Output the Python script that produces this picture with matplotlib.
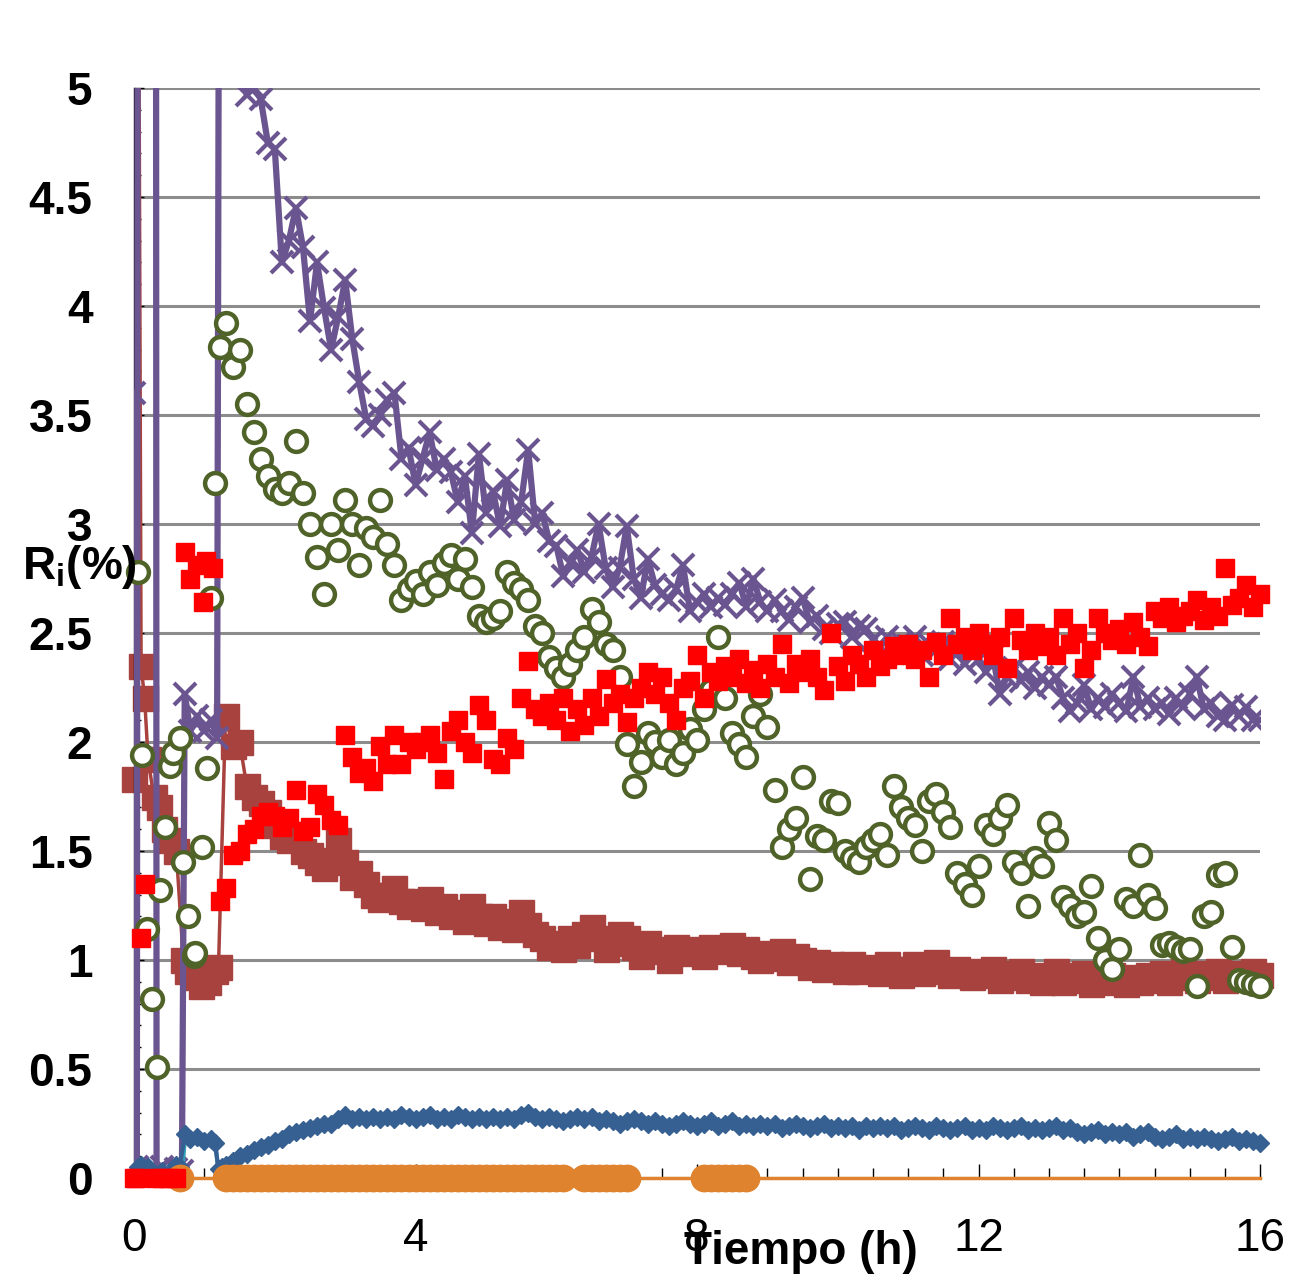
import numpy as np
import matplotlib
matplotlib.use("Agg")
import matplotlib.pyplot as plt
from matplotlib.ticker import MultipleLocator

plt.rcParams['font.family'] = ['Liberation Sans', 'DejaVu Sans']
plt.rcParams['mathtext.fontset'] = 'custom'
plt.rcParams['mathtext.rm'] = 'Liberation Sans'
plt.rcParams['mathtext.bf'] = 'Liberation Sans:bold'

# --- données : début de l'essai (t < 1.3 h), pas irrégulier ---
t_purple0 = [0.0, 0.04, 0.1, 0.28, 0.32, 0.4, 0.5, 0.6, 0.68, 0.72, 0.8, 0.9, 1.0, 1.1, 1.18, 1.25]
purple0 = [3.6, 0.05, 30.0, 30.0, 0.03, 0.05, 0.02, 0.04, 0.03, 2.22, 2.05, 2.12, 2.05, 2.1, 2.02, 12.0]

t_brown0 = [0.0, 0.03, 0.1, 0.15, 0.2, 0.28, 0.35, 0.42, 0.5, 0.6, 0.7, 0.75, 0.85, 0.95, 1.05, 1.15, 1.2]
brown0 = [1.83, 9.0, 2.35, 2.2, 1.92, 1.75, 1.7, 1.6, 1.55, 1.5, 1.0, 0.95, 0.92, 0.88, 0.9, 0.95, 0.97]

t_red0 = [0.0, 0.03, 0.1, 0.15, 0.3, 0.4, 0.5, 0.6, 0.72, 0.8, 0.9, 0.98, 1.02, 1.12, 1.22]
red0 = [0.0, 0.0, 1.1, 1.35, 0.0, 0.0, 0.0, 0.0, 2.87, 2.75, 2.81, 2.64, 2.83, 2.8, 1.27]

t_green0 = [0.06, 0.11, 0.18, 0.26, 0.33, 0.37, 0.44, 0.51, 0.56, 0.65, 0.7, 0.77, 0.85, 0.87,
            0.96, 1.03, 1.1, 1.15, 1.22]
green0 = [2.78, 1.94, 1.14, 0.82, 0.51, 1.32, 1.61, 1.89, 1.95, 2.02, 1.45, 1.2, 1.02, 1.03,
          1.52, 1.88, 2.66, 3.19, 3.81]

t_blue0 = [0.0, 0.05, 0.1, 0.15, 0.2, 0.3, 0.4, 0.5, 0.6, 0.65, 0.72, 0.8, 0.9, 1.0, 1.1, 1.15, 1.2, 1.25]
blue0 = [0.02, 0.05, 0.06, 0.04, 0.05, 0.02, 0.03, 0.02, 0.06, 0.05, 0.2, 0.18, 0.19, 0.17, 0.18, 0.16, 0.04, 0.05]

t_teal = [0.6, 0.68, 0.72, 0.9, 1.15, 1.2, 1.28]
teal = [0.0, 0.02, 0.17, 0.16, 0.17, 0.03, 0.05]

# --- données : t = 1.3 ... 16.0 h, pas de 0.1 h ---
t_main = np.arange(13, 161) / 10

purple = [10.0, 8.0, 5.3, 4.97, 5.0, 4.95, 4.75,
          4.72, 4.2, 4.3, 4.45, 4.27, 3.93, 4.2, 3.99, 3.8, 3.95,
          4.12, 3.85, 3.65, 3.48, 3.45, 3.5, 3.57, 3.6, 3.3, 3.35,
          3.18, 3.3, 3.42, 3.25, 3.3, 3.24, 3.1, 3.22, 2.96, 3.32,
          3.05, 3.15, 2.99, 3.2, 3.02, 3.1, 3.34, 3.0, 3.05, 2.92,
          2.9, 2.76, 2.82, 2.88, 2.78, 2.85, 3.0, 2.8, 2.71, 2.8,
          2.99, 2.75, 2.66, 2.84, 2.72, 2.68, 2.65, 2.7, 2.81, 2.6,
          2.64, 2.68, 2.62, 2.66, 2.63, 2.68, 2.73, 2.62, 2.75, 2.64,
          2.6, 2.65, 2.6, 2.56, 2.62, 2.66, 2.55, 2.58, 2.52, 2.5,
          2.54, 2.55, 2.48, 2.53, 2.52, 2.47, 2.44, 2.48, 2.41, 2.46,
          2.44, 2.48, 2.4, 2.45, 2.42, 2.46, 2.38, 2.42, 2.36, 2.4,
          2.38, 2.32, 2.4, 2.22, 2.3, 2.34, 2.28, 2.32, 2.25, 2.3,
          2.26, 2.3, 2.2, 2.14, 2.18, 2.26, 2.15, 2.2, 2.16, 2.22,
          2.18, 2.14, 2.3, 2.16, 2.2, 2.15, 2.18, 2.13, 2.2, 2.16,
          2.22, 2.3, 2.15, 2.18, 2.12, 2.1, 2.17, 2.12, 2.16, 2.1,
          2.1]

brown = [2.12, 1.98, 2.0, 1.8, 1.75, 1.72, 1.68,
         1.62, 1.57, 1.55, 1.58, 1.5, 1.48, 1.45, 1.42, 1.46, 1.55,
         1.45, 1.38, 1.4, 1.35, 1.3, 1.28, 1.3, 1.33, 1.27, 1.25,
         1.27, 1.24, 1.28, 1.22, 1.25, 1.2, 1.22, 1.18, 1.25, 1.2,
         1.17, 1.2, 1.15, 1.18, 1.14, 1.22, 1.16, 1.12, 1.1, 1.06,
         1.08, 1.05, 1.1, 1.07, 1.12, 1.15, 1.1, 1.05, 1.08, 1.12,
         1.1, 1.06, 1.02, 1.08, 1.04, 1.05, 1.0, 1.06, 1.04, 1.03,
         1.05, 1.02, 1.06, 1.04, 1.05, 1.07, 1.03, 1.05, 1.02, 1.0,
         1.03, 1.01, 1.04, 0.99, 1.02, 1.0, 0.97, 0.99, 0.96, 0.98,
         0.97, 0.95, 0.98, 0.95, 0.96, 0.97, 0.94, 0.98, 0.96, 0.93,
         0.96, 0.98, 0.94, 0.97, 0.99, 0.95, 0.93, 0.96, 0.94, 0.92,
         0.95, 0.93, 0.96, 0.91, 0.94, 0.92, 0.95, 0.91, 0.93, 0.9,
         0.92, 0.95, 0.9, 0.93, 0.91, 0.94, 0.89, 0.92, 0.9, 0.93,
         0.91, 0.89, 0.92, 0.9, 0.93, 0.91, 0.94, 0.9, 0.92, 0.95,
         0.93, 0.91, 0.94, 0.92, 0.95, 0.91, 0.93, 0.94, 0.92, 0.95,
         0.93]

red = [1.33, 1.48, 1.5, 1.58, 1.6, 1.66, 1.68,
       1.66, 1.61, 1.65, 1.78, 1.59, 1.61, 1.76, 1.71, 1.64, 1.62,
       2.03, 1.93, 1.86, 1.88, 1.82, 1.98, 1.9, 2.03, 1.9, 2.0,
       1.97, 2.0, 2.03, 1.95, 1.83, 2.05, 2.1, 2.0, 1.95, 2.17,
       2.1, 1.92, 1.9, 2.02, 1.97, 2.2, 2.37, 2.15, 2.12, 2.18,
       2.1, 2.2, 2.05, 2.15, 2.08, 2.2, 2.12, 2.29, 2.18, 2.22,
       2.09, 2.2, 2.25, 2.32, 2.22, 2.3, 2.18, 2.1, 2.25, 2.28,
       2.4, 2.2, 2.32, 2.28, 2.35, 2.3, 2.38, 2.27, 2.33, 2.25,
       2.36, 2.3, 2.45, 2.27, 2.36, 2.32, 2.38, 2.3, 2.24, 2.5,
       2.35, 2.28, 2.4, 2.36, 2.3, 2.42, 2.35, 2.38, 2.44, 2.4,
       2.45, 2.38, 2.42, 2.3, 2.46, 2.4, 2.57, 2.45, 2.48, 2.42,
       2.5, 2.45, 2.4, 2.48, 2.34, 2.57, 2.47, 2.42, 2.5, 2.44,
       2.48, 2.4, 2.57, 2.45, 2.5, 2.34, 2.42, 2.57, 2.5, 2.47,
       2.52, 2.45, 2.55, 2.48, 2.44, 2.6, 2.57, 2.62, 2.55, 2.58,
       2.6, 2.65, 2.56, 2.62, 2.58, 2.8, 2.63, 2.66, 2.72, 2.62,
       2.68]

green = [3.92, 3.72, 3.8, 3.55, 3.42, 3.3, 3.22,
         3.16, 3.14, 3.19, 3.38, 3.14, 3.0, 2.85, 2.68, 3.0, 2.88,
         3.11, 3.0, 2.81, 2.98, 2.94, 3.11, 2.91, 2.81, 2.65, 2.7,
         2.74, 2.68, 2.78, 2.72, 2.82, 2.86, 2.75, 2.84, 2.71, 2.58,
         2.55, 2.57, 2.6, 2.78, 2.73, 2.7, 2.65, 2.53, 2.5, 2.39,
         2.34, 2.3, 2.36, 2.42, 2.48, 2.61, 2.55, 2.45, 2.42, 2.3,
         1.99, 1.8, 1.91, 2.04, 2.0, 1.93, 2.01, 1.9, 1.95, 2.06,
         2.01, 2.15, 2.24, 2.48, 2.2, 2.04, 1.99, 1.93, 2.12, 2.22,
         2.07, 1.78, 1.52, 1.6, 1.65, 1.84, 1.37, 1.57, 1.55, 1.73,
         1.72, 1.5, 1.47, 1.45, 1.52, 1.55, 1.58, 1.48, 1.8, 1.7,
         1.65, 1.62, 1.5, 1.73, 1.76, 1.68, 1.61, 1.4, 1.35, 1.3,
         1.43, 1.62, 1.58, 1.65, 1.71, 1.45, 1.4, 1.25, 1.47, 1.43,
         1.63, 1.55, 1.29, 1.25, 1.2, 1.22, 1.34, 1.1, 1.0, 0.96,
         1.05, 1.28, 1.25, 1.48, 1.3, 1.24, 1.07, 1.08, 1.06, 1.04,
         1.05, 0.88, 1.2, 1.22, 1.39, 1.4, 1.06, 0.91, 0.9, 0.89,
         0.88]

blue = [0.06, 0.08, 0.1, 0.11, 0.13, 0.14, 0.15,
        0.17, 0.18, 0.2, 0.21, 0.22, 0.23, 0.24, 0.25, 0.25, 0.27,
        0.29, 0.27, 0.28, 0.27, 0.28, 0.27, 0.28, 0.27, 0.29, 0.28,
        0.27, 0.28, 0.29, 0.27, 0.28, 0.27, 0.29, 0.28, 0.27, 0.28,
        0.27, 0.28, 0.27, 0.28, 0.27, 0.29, 0.3, 0.28, 0.27, 0.28,
        0.27, 0.26, 0.27, 0.28, 0.27, 0.28, 0.26, 0.27, 0.26, 0.25,
        0.26, 0.27, 0.26, 0.25, 0.26, 0.25, 0.24, 0.25, 0.26, 0.25,
        0.24, 0.25, 0.26, 0.24, 0.25, 0.26, 0.24, 0.25, 0.24, 0.25,
        0.24, 0.25, 0.23, 0.24, 0.25, 0.24, 0.23, 0.24, 0.25, 0.23,
        0.24, 0.23, 0.24, 0.22, 0.24, 0.23, 0.24, 0.23, 0.24, 0.22,
        0.23, 0.24, 0.23, 0.22, 0.24, 0.23, 0.22, 0.23, 0.24, 0.22,
        0.23, 0.22, 0.24, 0.23, 0.22, 0.23, 0.24, 0.22, 0.23, 0.22,
        0.23, 0.24, 0.22, 0.23, 0.21, 0.2, 0.21, 0.22, 0.2, 0.21,
        0.2, 0.21, 0.19, 0.2, 0.21, 0.19, 0.18, 0.19, 0.2, 0.18,
        0.19, 0.18, 0.19, 0.18, 0.17, 0.18, 0.19, 0.17, 0.18, 0.17,
        0.16]

# série orange : nulle sur tout l'essai, marqueurs visibles seulement à certains instants
t_orange = [0.0, 16.0]
orange = [0.0, 0.0]
t_orange_pts = [0.65,
                1.3, 1.4, 1.5, 1.6, 1.7, 1.8, 1.9, 2.0, 2.1, 2.2, 2.3, 2.4, 2.5, 2.6, 2.7, 2.8, 2.9,
                3.0, 3.1, 3.2, 3.3, 3.4, 3.5, 3.6, 3.7, 3.8, 3.9, 4.0, 4.1, 4.2, 4.3, 4.4, 4.5,
                4.6, 4.7, 4.8, 4.9, 5.0, 5.1, 5.2, 5.3, 5.4, 5.5, 5.6, 5.7, 5.8, 5.9, 6.0, 6.1,
                6.4, 6.5, 6.6, 6.7, 6.8, 6.9, 7.0,
                8.1, 8.2, 8.3, 8.4, 8.5, 8.6, 8.7]
orange_pts = [0.0] * len(t_orange_pts)

t_purple = np.concatenate([t_purple0, t_main])
y_purple = np.concatenate([purple0, purple])
t_brown = np.concatenate([t_brown0, t_main])
y_brown = np.concatenate([brown0, brown])
t_red = np.concatenate([t_red0, t_main])
y_red = np.concatenate([red0, red])
t_green = np.concatenate([t_green0, t_main])
y_green = np.concatenate([green0, green])
t_blue = np.concatenate([t_blue0, t_main])
y_blue = np.concatenate([blue0, blue])

# --- graphique ---
fig = plt.figure(figsize=(12.89, 12.81), dpi=100)
ax = fig.add_axes([0.104, 0.0804, 0.8736, 0.8509])

ax.plot(t_brown, y_brown, color="#A8423F", lw=2.5, zorder=2)
ax.plot(t_brown, y_brown, ls="none", marker="s", ms=18, color="#A8423F", zorder=2, clip_on=False)
ax.plot(t_purple, y_purple, color="#6B5591", lw=4.5, marker="x", ms=16, mew=3, zorder=3)
ax.plot(t_green, y_green, ls="none", marker="o", ms=15, mfc="white", mec="#4F6228", mew=3.2, zorder=4, clip_on=False)
ax.plot(t_teal, teal, color="#31A2BA", lw=3, zorder=5)
ax.plot(t_blue, y_blue, color="#376092", lw=3, marker="D", ms=9, zorder=5, clip_on=False)
ax.plot(t_orange, orange, color="#E0832F", lw=2.5, zorder=6, clip_on=False)
ax.plot(t_orange_pts, orange_pts, ls="none", marker="o", ms=19, color="#E0832F", zorder=6, clip_on=False)
ax.plot(t_red, y_red, ls="none", marker="s", ms=12.5, color="#FF0000", zorder=7, clip_on=False)

ax.set_xlim(0, 16)
ax.set_ylim(0, 5)
ax.yaxis.grid(True, color="#8C8C8C", lw=2.2)
ax.set_axisbelow(True)

ax.xaxis.set_major_locator(MultipleLocator(4))
ax.xaxis.set_minor_locator(MultipleLocator(0.5))
ax.yaxis.set_minor_locator(MultipleLocator(0.1))
ax.set_yticks(np.arange(0, 5.01, 0.5))
ax.set_yticklabels(["0", "0.5", "1", "1.5", "2", "2.5", "3", "3.5", "4", "4.5", "5"],
                   fontsize=33, fontweight="bold")
ax.tick_params(axis="x", which="major", direction="in", length=10, width=1, labelsize=33, pad=28)
ax.tick_params(axis="x", which="minor", direction="in", length=7, width=1)
ax.tick_params(axis="y", which="major", direction="in", length=7, width=1, pad=30)
ax.tick_params(axis="y", which="minor", direction="in", length=5, width=1)

for s in ["top", "right", "bottom"]:
    ax.spines[s].set_visible(False)
ax.spines["left"].set_linewidth(1)

fig.text(801 / 1289, 1 - 1252 / 1281, "Tiempo (h)", fontsize=33, fontweight="bold",
         ha="center", va="center")
fig.text(22 / 1289, 1 - 567 / 1281, r"R$_\mathbf{i}$(%)", fontsize=33, fontweight="bold",
         ha="left", va="center")

plt.savefig("out.png", dpi=100)
plt.close()
